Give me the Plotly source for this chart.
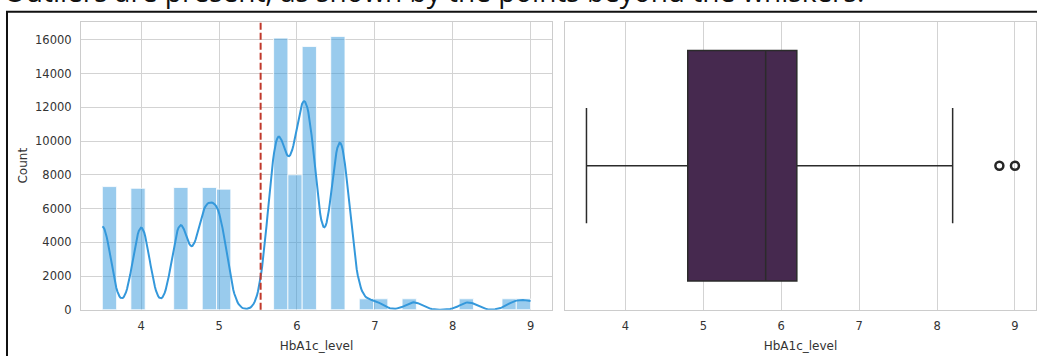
import numpy as np
import plotly.graph_objects as go

# ---- data ----
hba1c_values = [3.5, 4.0, 4.5, 4.8, 5.0, 5.7, 5.8, 6.0, 6.1, 6.2, 6.5, 6.6, 6.8, 7.0, 7.5, 8.2, 8.8, 9.0]
hba1c_counts = [7300, 7200, 7250, 7250, 7150, 8100, 8000, 8000, 7700, 7900, 8000, 8200, 650, 650, 650, 650, 650, 650]
n_bins = 30
y_ticks = [0, 2000, 4000, 6000, 8000, 10000, 12000, 14000, 16000]
y_tick_labels = ["0", "2000", "4000", "6000", "8000", "10000", "12000", "14000", "16000"]
x_ticks = [4, 5, 6, 7, 8, 9]
title_text = "Outliers are present, as shown by the points beyond the whiskers."

vals = np.array(hba1c_values, dtype=float)
cnts = np.array(hba1c_counts, dtype=float)

# histogram (seaborn histplot bins=30)
hist, edges = np.histogram(vals, bins=n_bins, range=(vals.min(), vals.max()), weights=cnts)
centers = (edges[:-1] + edges[1:]) / 2
bw = edges[1] - edges[0]
mask = hist > 0

# KDE (gaussian, Scott bandwidth) scaled to counts, like seaborn's kde=True
n = cnts.sum()
mean = np.sum(vals * cnts) / n
std = np.sqrt(np.sum(cnts * (vals - mean) ** 2) / (n - 1))
h = std * n ** (-1 / 5)
grid = np.linspace(vals.min(), vals.max(), 400)
dens = (cnts[None, :] * np.exp(-0.5 * ((grid[:, None] - vals[None, :]) / h) ** 2)).sum(axis=1) / (h * np.sqrt(2 * np.pi))
kde_counts = dens * bw

# box statistics
raw = np.repeat(vals, cnts.astype(int))
q1, med, q3 = np.percentile(raw, [25, 50, 75])
iqr = q3 - q1
lo_f = raw[raw >= q1 - 1.5 * iqr].min()
hi_f = raw[raw <= q3 + 1.5 * iqr].max()
outliers = np.unique(raw[(raw < q1 - 1.5 * iqr) | (raw > q3 + 1.5 * iqr)])

W, H = 1037, 356
def px_x(p):
    return p / W
def px_y(p):
    return (H - p) / H

fig = go.Figure()

fig.add_trace(go.Bar(
    x=centers[mask], y=hist[mask], width=bw,
    marker=dict(color="rgba(52,152,219,0.5)", line=dict(color="white", width=0.8)),
    xaxis="x", yaxis="y", showlegend=False,
))
fig.add_trace(go.Scatter(
    x=grid, y=kde_counts, mode="lines",
    line=dict(color="#3498db", width=2),
    xaxis="x", yaxis="y", showlegend=False,
))

fig.add_trace(go.Box(
    y=[0], q1=[q1], median=[med], q3=[q3], lowerfence=[lo_f], upperfence=[hi_f],
    orientation="h", width=0.8, whiskerwidth=0.5,
    fillcolor="#46294f", line=dict(color="#2b2b2b", width=1.5),
    boxpoints=False, xaxis="x2", yaxis="y2", showlegend=False,
))
fig.add_trace(go.Scatter(
    x=outliers, y=[0] * len(outliers), mode="markers",
    marker=dict(symbol="circle-open", size=8, color="#262626", line=dict(width=2.5)),
    xaxis="x2", yaxis="y2", showlegend=False,
))

axis_font = dict(family="DejaVu Sans", size=11.5, color="#333333")
label_font = dict(family="DejaVu Sans", size=12, color="#333333")
ydom = [px_y(316), px_y(22)]

fig.update_layout(
    width=W, height=H, margin=dict(l=0, r=0, t=0, b=0),
    paper_bgcolor="white", plot_bgcolor="white",
    xaxis=dict(domain=[px_x(81), px_x(552.5)], range=[3.225, 9.275], tickvals=x_ticks,
               showgrid=True, gridcolor="#d3d3d3", gridwidth=1,
               showline=True, mirror=True, linecolor="#cccccc", linewidth=1,
               zeroline=False, tickfont=axis_font, ticks="", ticklabelstandoff=5,
               title=dict(text="HbA1c_level", font=label_font, standoff=10),
               anchor="y"),
    yaxis=dict(domain=ydom, range=[0, 17080], tickvals=y_ticks, ticktext=y_tick_labels,
               showgrid=True, gridcolor="#d3d3d3", gridwidth=1,
               showline=True, mirror=True, linecolor="#cccccc", linewidth=1,
               zeroline=False, tickfont=axis_font, ticks="", ticklabelstandoff=6,
               title=dict(text="Count", font=label_font, standoff=4),
               anchor="x"),
    xaxis2=dict(domain=[px_x(565.6), 1.0], range=[3.225, 9.27], tickvals=x_ticks,
                showgrid=True, gridcolor="#d3d3d3", gridwidth=1,
                showline=True, mirror=True, linecolor="#cccccc", linewidth=1,
                zeroline=False, tickfont=axis_font, ticks="", ticklabelstandoff=5,
                title=dict(text="HbA1c_level", font=label_font, standoff=10),
                anchor="y2"),
    yaxis2=dict(domain=ydom, range=[-0.5, 0.5], type="linear", showticklabels=False,
                showgrid=False, showline=True, mirror=True, linecolor="#cccccc", linewidth=1,
                zeroline=False, ticks="", anchor="x2"),
    shapes=[
        dict(type="line", xref="x", yref="y domain", x0=mean, x1=mean, y0=0, y1=1,
             line=dict(color="#c0392b", width=2, dash="7px,3px")),
        dict(type="rect", xref="paper", yref="paper", x0=px_x(7), x1=1.05,
             y0=-0.1, y1=px_y(12), line=dict(color="#111111", width=2), layer="above"),
    ],
    annotations=[
        dict(text=title_text, xref="paper", yref="paper", x=px_x(2), y=px_y(12),
             xanchor="left", yanchor="bottom", showarrow=False,
             font=dict(family="Open Sans", size=28, color="#111111")),
    ],
)

fig.write_html("out.html")
